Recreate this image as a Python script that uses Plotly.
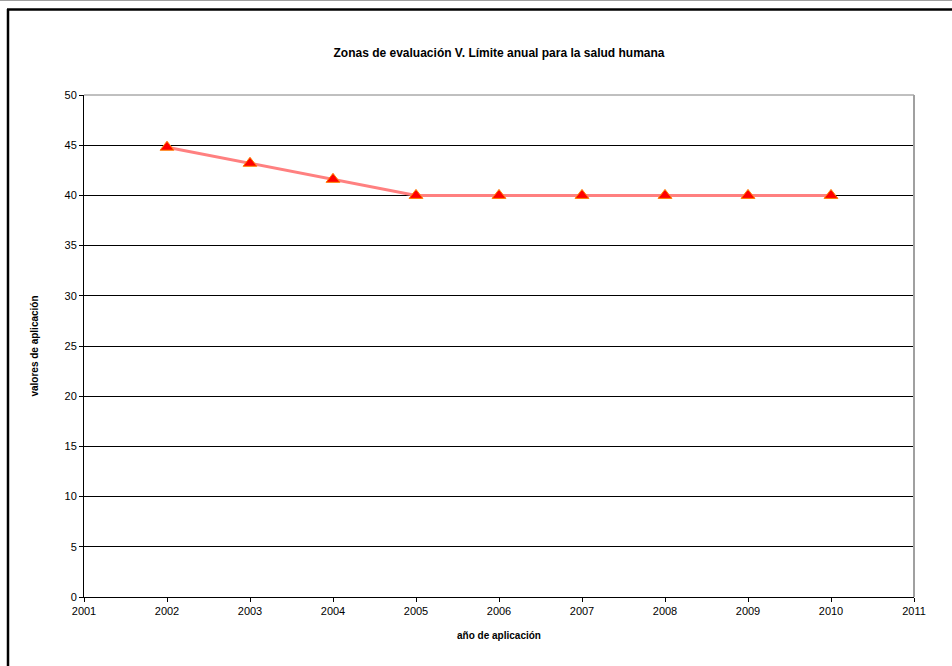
import plotly.graph_objects as go

years = [2002, 2003, 2004, 2005, 2006, 2007, 2008, 2009, 2010]
values = [44.8, 43.2, 41.6, 40, 40, 40, 40, 40, 40]
x_ticks = list(range(2001, 2012))
y_ticks = list(range(0, 51, 5))

title = "Zonas de evaluación V. Límite anual para la salud humana"
x_title = "año de aplicación"
y_title = "valores de aplicación"

W, H = 952, 666
L, R, T, B = 84, 38, 95, 69
pw, ph = W - L - R, H - T - B

def px(p):
    return (p - L) / pw

def py(q):
    return (H - B - q) / ph

font = "Liberation Sans, Arial, sans-serif"

fig = go.Figure()
fig.add_trace(go.Scatter(
    x=years, y=values, mode="lines+markers",
    line=dict(color="#FF8080", width=3),
    marker=dict(symbol="triangle-up", size=12, color="#FF0000",
                line=dict(color="#FF8000", width=1)),
    showlegend=False, cliponaxis=False,
))

fig.update_layout(
    width=W, height=H,
    margin=dict(l=L, r=R, t=T, b=B),
    paper_bgcolor="white", plot_bgcolor="white",
    font=dict(family=font, size=11, color="black"),
    title=dict(text="<b>" + title + "</b>", x=px(499), xref="paper",
               xanchor="center", y=1 - 53 / H, yanchor="middle",
               font=dict(size=12, family=font)),
    xaxis=dict(range=[2001, 2011], tickvals=x_ticks, ticks="outside",
               ticklen=4, tickcolor="black", showgrid=False,
               showline=True, linecolor="black", linewidth=1, zeroline=False,
               mirror=False,
               title=dict(text="<b>" + x_title + "</b>", standoff=15,
                          font=dict(size=10, family=font)),
               tickfont=dict(size=11)),
    yaxis=dict(range=[0, 50], tickvals=y_ticks, ticks="outside",
               ticklen=4, tickcolor="black", showgrid=True,
               gridcolor="black", gridwidth=1,
               showline=True, linecolor="black", linewidth=1, zeroline=False,
               title=dict(text="<b>" + y_title + "</b>", standoff=24,
                          font=dict(size=10, family=font)),
               tickfont=dict(size=11)),
    shapes=[
        dict(type="line", xref="paper", yref="paper", x0=0, x1=1, y0=1, y1=1,
             line=dict(color="#808080", width=1)),
        dict(type="line", xref="paper", yref="paper", x0=1, x1=1, y0=0, y1=1,
             line=dict(color="#A0A0A0", width=2)),
        dict(type="line", xref="paper", yref="paper", x0=px(8), x1=px(8),
             y0=py(9), y1=py(H + 5), line=dict(color="black", width=2.5)),
        dict(type="line", xref="paper", yref="paper", x0=px(7), x1=px(W + 5),
             y0=py(9.5), y1=py(9.5), line=dict(color="black", width=2.5)),
        dict(type="line", xref="paper", yref="paper", x0=px(0), x1=px(W + 5),
             y0=py(0.5), y1=py(0.5), line=dict(color="#A0A0A0", width=1)),
    ],
)

fig.write_html("out.html")
